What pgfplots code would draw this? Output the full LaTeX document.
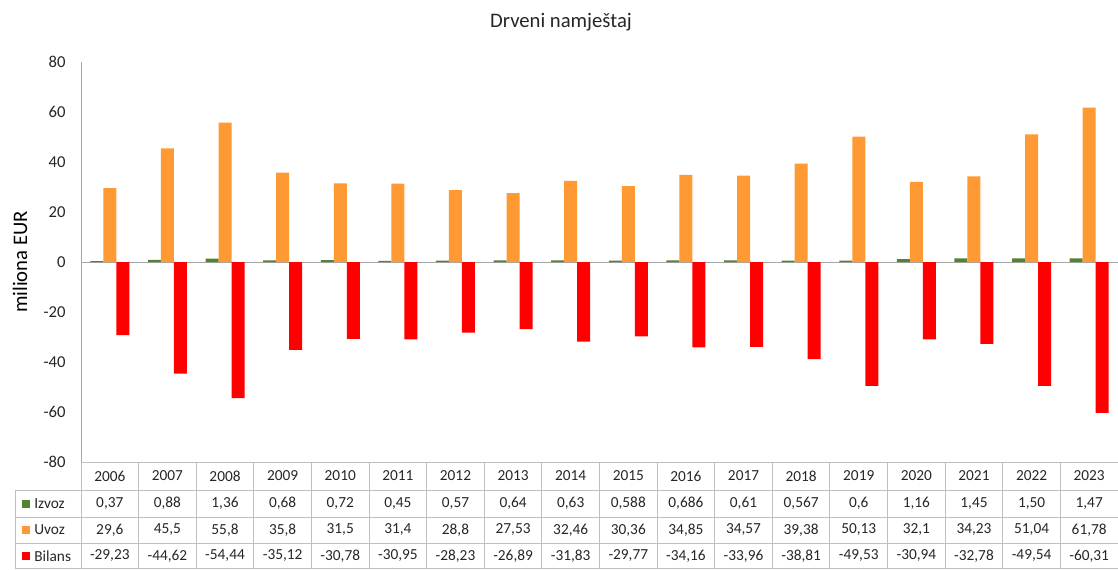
\documentclass[border=0pt]{standalone}
\usepackage{pgfplots}
\usepackage{pgfplotstable}
\usepackage{fontspec}
\setmainfont{Carlito}
\pgfplotsset{compat=1.18}

\definecolor{izvoz}{HTML}{548235}
\definecolor{uvoz}{HTML}{FF9933}
\definecolor{bilans}{HTML}{FF0000}
\definecolor{rulec}{HTML}{BFBFBF}
\definecolor{txt}{HTML}{262626}

% godina, izvoz, uvoz, bilans (milioni EUR)
\pgfplotstableread{
year ex    im    bal
2006 0.37  29.6  -29.23
2007 0.88  45.5  -44.62
2008 1.36  55.8  -54.44
2009 0.68  35.8  -35.12
2010 0.72  31.5  -30.78
2011 0.45  31.4  -30.95
2012 0.57  28.8  -28.23
2013 0.64  27.53 -26.89
2014 0.63  32.46 -31.83
2015 0.588 30.36 -29.77
2016 0.686 34.85 -34.16
2017 0.61  34.57 -33.96
2018 0.567 39.38 -38.81
2019 0.6   50.13 -49.53
2020 1.16  32.1  -30.94
2021 1.45  34.23 -32.78
2022 1.50  51.04 -49.54
2023 1.47  61.78 -60.31
}\data

\def\tocomma#1.#2\stopc{#1,#2}
\newcommand\tabfont{\fontsize{11.5}{13}\selectfont}

\begin{document}
\begin{tikzpicture}[x=0.75pt,y=0.75pt]
\useasboundingbox (-81,-107) rectangle (1037,462);
\begin{axis}[
    at={(0,0)}, anchor=south west,
    scale only axis,
    width=777.75pt, height=300pt,
    xmin=-0.5, xmax=17.5,
    ymin=-80, ymax=80,
    ytick={-80,-60,...,80},
    xtick=\empty,
    axis x line=none,
    axis y line*=left,
    y axis line style={draw=gray!70,-},
    major tick length=0pt,
    ybar, bar width=9.75pt,
    clip=false,
    /pgf/number format/assume math mode=true,
    yticklabel style={font=\fontsize{12.5}{14}\selectfont, text=txt, xshift=-8pt},
]
\draw[gray!70] (axis cs:-0.5,0) -- (axis cs:17.5,0);
\addplot[fill=izvoz, draw=none, bar shift=-9.75pt] table[x expr=\coordindex, y=ex] {\data};
\addplot[fill=uvoz, draw=none, bar shift=0pt] table[x expr=\coordindex, y=im] {\data};
\addplot[fill=bilans, draw=none, bar shift=9.75pt] table[x expr=\coordindex, y=bal] {\data};
\end{axis}

% naslov i oznaka osi
\node[text=txt, font=\fontsize{15.5}{18}\selectfont] at (480,440) {Drveni namještaj};
\node[text=black, rotate=90, font=\fontsize{15.5}{18}\selectfont] at (-61,200) {miliona EUR};

% tablica s podacima
\def\cw{57.611}
\draw[rulec, line width=0.7pt] (0,0) -- (1037,0);
\foreach \y in {-28,-55,-81,-106.5}
  \draw[rulec, line width=0.7pt] (-66,\y) -- (1037,\y);
\foreach \i in {0,...,18}
  \draw[rulec, line width=0.7pt] (\i*\cw,0) -- (\i*\cw,-106.5);
\draw[rulec, line width=0.7pt] (-66,-28) -- (-66,-106.5);

\fill[izvoz]  (-59,-45.5) rectangle ++(8,8);
\fill[uvoz]   (-59,-72)   rectangle ++(8,8);
\fill[bilans] (-59,-98)   rectangle ++(8,8);
\node[anchor=west, text=txt, font=\tabfont, inner sep=0pt] at (-47,-41.5) {Izvoz};
\node[anchor=west, text=txt, font=\tabfont, inner sep=0pt] at (-47,-68) {Uvoz};
\node[anchor=west, text=txt, font=\tabfont, inner sep=0pt] at (-47,-94) {Bilans};

\foreach \i in {0,...,17}{
  \pgfplotstablegetelem{\i}{year}\of\data
  \node[text=txt, font=\tabfont] at ({(\i+0.5)*\cw},-14) {\pgfplotsretval};
  \pgfplotstablegetelem{\i}{ex}\of\data
  \node[text=txt, font=\tabfont] at ({(\i+0.5)*\cw},-41.5) {\expandafter\tocomma\pgfplotsretval\stopc};
  \pgfplotstablegetelem{\i}{im}\of\data
  \node[text=txt, font=\tabfont] at ({(\i+0.5)*\cw},-68) {\expandafter\tocomma\pgfplotsretval\stopc};
  \pgfplotstablegetelem{\i}{bal}\of\data
  \node[text=txt, font=\tabfont] at ({(\i+0.5)*\cw},-94) {\expandafter\tocomma\pgfplotsretval\stopc};
}
\end{tikzpicture}
\end{document}
